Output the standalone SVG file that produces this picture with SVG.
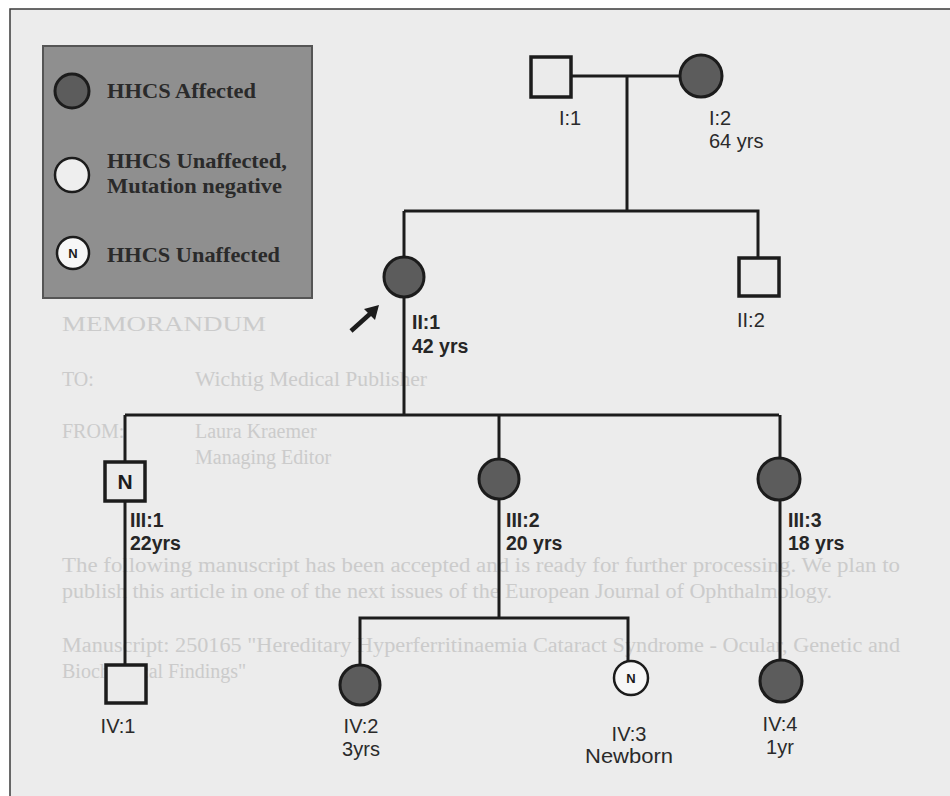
<svg xmlns="http://www.w3.org/2000/svg" width="950" height="796" viewBox="0 0 950 796">
<style>
.ln{stroke:#1c1c1c;stroke-width:3;fill:none}
.sq{fill:#ebebeb;stroke:#1c1c1c;stroke-width:3.5}
.aff{fill:#5c5c5c;stroke:#1c1c1c;stroke-width:3}
.nrm{fill:#f7f7f7;stroke:#1c1c1c;stroke-width:2.5}
.lb{font-family:"Liberation Sans",Arial,sans-serif;font-size:20px;fill:#2a2a2a}
.lbb{font-family:"Liberation Sans",Arial,sans-serif;font-size:19.5px;font-weight:bold;fill:#262626}
.lbc{font-family:"Liberation Sans",Arial,sans-serif;font-size:20px;fill:#2a2a2a;text-anchor:middle}
.nt{font-family:"Liberation Sans",Arial,sans-serif;font-weight:bold;fill:#1c1c1c;text-anchor:middle}
.lg{font-family:"Liberation Serif","Times New Roman",serif;font-weight:bold;font-size:21px;fill:#2a2a2a}
.bg{font-family:"Liberation Serif","Times New Roman",serif;fill:#cbcbcb;font-size:20px}
</style>
<rect x="0" y="0" width="950" height="796" fill="#ffffff"/>
<rect x="10" y="9" width="945" height="800" fill="#ececec" stroke="#3a3a3a" stroke-width="1.5"/>
<g id="background-memo">
<text class="bg" x="62" y="331" font-size="27" textLength="204" lengthAdjust="spacingAndGlyphs">MEMORANDUM</text>
<text class="bg" x="62" y="386">TO:</text>
<text class="bg" x="195" y="386" textLength="232" lengthAdjust="spacingAndGlyphs">Wichtig Medical Publisher</text>
<text class="bg" x="62" y="438">FROM:</text>
<text class="bg" x="195" y="438">Laura Kraemer</text>
<text class="bg" x="195" y="464">Managing Editor</text>
<text class="bg" x="62" y="572" textLength="838" lengthAdjust="spacingAndGlyphs">The following manuscript has been accepted and is ready for further processing. We plan to</text>
<text class="bg" x="62" y="598" textLength="770" lengthAdjust="spacingAndGlyphs">publish this article in one of the next issues of the European Journal of Ophthalmology.</text>
<text class="bg" x="62" y="652" textLength="838" lengthAdjust="spacingAndGlyphs">Manuscript: 250165 "Hereditary Hyperferritinaemia Cataract Syndrome - Ocular, Genetic and</text>
<text class="bg" x="62" y="678">Biochemical Findings"</text>
</g>
<g id="legend">
<rect x="43" y="46" width="269" height="252" fill="#8f8f8f" stroke="#555" stroke-width="2"/>
<circle cx="72" cy="91" r="17" class="aff"/>
<text class="lg" x="107" y="98" textLength="149" lengthAdjust="spacingAndGlyphs">HHCS Affected</text>
<circle cx="72" cy="175" r="17" fill="#eeeeee" stroke="#1c1c1c" stroke-width="2.5"/>
<text class="lg" x="107" y="168" textLength="180" lengthAdjust="spacingAndGlyphs">HHCS Unaffected,</text>
<text class="lg" x="107" y="193" textLength="175" lengthAdjust="spacingAndGlyphs">Mutation negative</text>
<circle cx="73" cy="253" r="16" class="nrm"/>
<text class="nt" x="73" y="258" font-size="13" font-family="Liberation Serif, serif">N</text>
<text class="lg" x="107" y="262" textLength="173" lengthAdjust="spacingAndGlyphs">HHCS Unaffected</text>
</g>
<g id="connectors">
<path class="ln" d="M572 76 H680"/>
<path class="ln" d="M627 76 V211"/>
<path class="ln" d="M404 211 H758 V258"/>
<path class="ln" d="M404 211 V415"/>
<path class="ln" d="M125 415 H779"/>
<path class="ln" d="M125 415 V665"/>
<path class="ln" d="M499 415 V618"/>
<path class="ln" d="M780 415 V661"/>
<path class="ln" d="M360 666 V618 H628 V661"/>
</g>
<g id="I-1"><rect x="531" y="57" width="40" height="40" class="sq"/><text class="lb" x="559" y="125">I:1</text></g>
<g id="I-2"><circle cx="701" cy="76" r="21" class="aff"/><text class="lb" x="709" y="125">I:2</text><text class="lb" x="709" y="148">64 yrs</text></g>
<g id="II-1"><circle cx="404" cy="277" r="20" class="aff"/><text class="lbb" x="412" y="329">II:1</text><text class="lbb" x="412" y="353">42 yrs</text>
<path d="M351 331 L371 313" stroke="#1c1c1c" stroke-width="4.5" fill="none"/><polygon points="379,305 364,309 375,320" fill="#1c1c1c"/></g>
<g id="II-2"><rect x="739" y="258" width="40" height="38" class="sq"/><text class="lb" x="737" y="327">II:2</text></g>
<g id="III-1"><rect x="105" y="462" width="40" height="39" class="sq"/><text class="nt" x="125" y="489" font-size="21">N</text><text class="lbb" x="130" y="527">III:1</text><text class="lbb" x="130" y="550">22yrs</text></g>
<g id="III-2"><circle cx="499" cy="479" r="20" class="aff"/><text class="lbb" x="506" y="527">III:2</text><text class="lbb" x="506" y="550">20 yrs</text></g>
<g id="III-3"><circle cx="779" cy="479" r="21" class="aff"/><text class="lbb" x="788" y="527">III:3</text><text class="lbb" x="788" y="550">18 yrs</text></g>
<g id="IV-1"><rect x="106" y="665" width="40" height="38" class="sq"/><text class="lbc" x="118" y="733">IV:1</text></g>
<g id="IV-2"><circle cx="360" cy="685" r="20" class="aff"/><text class="lbc" x="361" y="733">IV:2</text><text class="lbc" x="361" y="756">3yrs</text></g>
<g id="IV-3"><circle cx="631" cy="678" r="17" class="nrm"/><text class="nt" x="631" y="683" font-size="13" font-weight="normal">N</text><text class="lbc" x="629" y="741">IV:3</text><text class="lbc" x="629" y="763" textLength="88" lengthAdjust="spacingAndGlyphs">Newborn</text></g>
<g id="IV-4"><circle cx="781" cy="681" r="21" class="aff"/><text class="lbc" x="780" y="731">IV:4</text><text class="lbc" x="780" y="754">1yr</text></g>
</svg>
